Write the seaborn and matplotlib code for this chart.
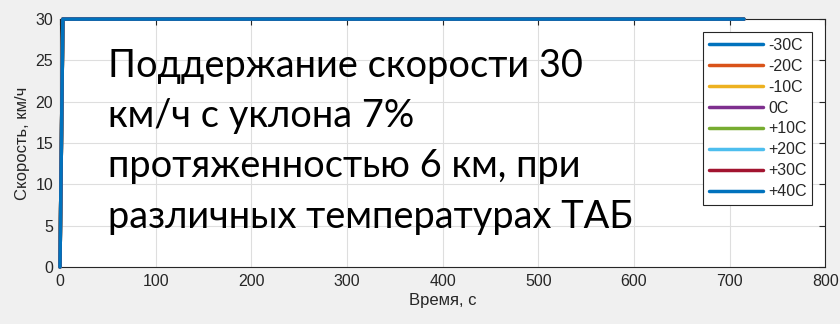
import matplotlib
matplotlib.use("Agg")
import matplotlib.pyplot as plt
import seaborn as sns
import pandas as pd

# Battery temperatures and the speed trace recorded for each run
series_names = ["-30C", "-20C", "-10C", "0C", "+10C", "+20C", "+30C", "+40C"]
time_s = [0, 3, 715]
speed_kmh = {
    "-30C": [0, 30, 30],
    "-20C": [0, 30, 30],
    "-10C": [0, 30, 30],
    "0C": [0, 30, 30],
    "+10C": [0, 30, 30],
    "+20C": [0, 30, 30],
    "+30C": [0, 30, 30],
    "+40C": [0, 30, 30],
}
x_ticks = [0, 100, 200, 300, 400, 500, 600, 700, 800]
y_ticks = [0, 5, 10, 15, 20, 25, 30]

colors = ["#0072bd", "#d95319", "#edb120", "#7e2f8e",
          "#77ac30", "#4dbeee", "#a2142f", "#0072bd"]

rows = []
for name in series_names:
    for t, v in zip(time_s, speed_kmh[name]):
        rows.append({"t": t, "v": v, "series": name})
df = pd.DataFrame(rows)

sns.set_style("whitegrid")
plt.rcParams["font.family"] = ["Liberation Sans", "DejaVu Sans"]

fig = plt.figure(figsize=(8.4, 3.24), dpi=100, facecolor="#f0f0f0")
ax = fig.add_axes([0.0714, 0.176, 0.911, 0.765])
ax.set_facecolor("white")

sns.lineplot(data=df, x="t", y="v", hue="series", hue_order=series_names,
             palette=colors, estimator=None, sort=False, linewidth=2.5,
             ax=ax, legend=False, zorder=3)
for ln in ax.lines:
    ln.set_clip_on(False)

ax.set_xlim(0, 800)
ax.set_ylim(0, 30)
ax.set_xticks(x_ticks)
ax.set_yticks(y_ticks)
ax.grid(True, color="#dedede", linewidth=0.8)
ax.tick_params(axis="both", direction="in", length=4, width=0.8,
               colors="#262626", labelsize=11.5, top=True, right=True,
               pad=5)
for s in ax.spines.values():
    s.set_color("#262626")
    s.set_linewidth(0.8)
ax.set_xlabel("Время, с", fontsize=12, color="#262626", labelpad=3)
ax.set_ylabel("Скорость, км/ч", fontsize=12, color="#262626", labelpad=4)

handles = [plt.Line2D([], [], color=c, linewidth=2.5) for c in colors]
leg = ax.legend(handles, series_names, loc="upper right",
                bbox_to_anchor=(0.983, 0.947), fontsize=11.5,
                handlelength=3.4, handletextpad=0.3, labelspacing=0.37,
                borderpad=0.35, frameon=True, fancybox=False,
                borderaxespad=0)
leg.get_frame().set_edgecolor("#262626")
leg.get_frame().set_linewidth(0.8)
leg.get_frame().set_facecolor("white")
leg.get_frame().set_alpha(1)

fig.text(0.1285, (324 - 228) / 324,
         "Поддержание скорости 30\nкм/ч с уклона 7%\n"
         "протяженностью 6 км, при\nразличных температурах ТАБ",
         fontsize=27.4, family="Lato", color="black",
         linespacing=1.5, va="baseline", ha="left")

fig.savefig("out.png", dpi=100, facecolor=fig.get_facecolor())
